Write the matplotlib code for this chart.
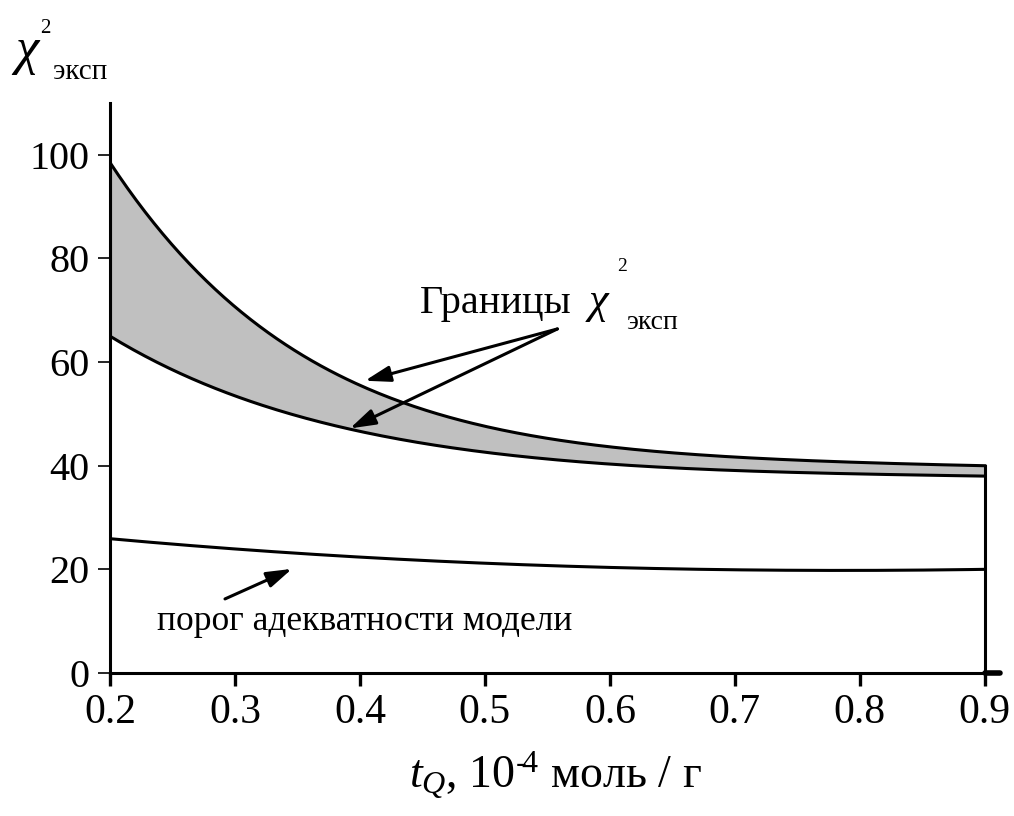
import matplotlib
matplotlib.use("Agg")
import matplotlib.pyplot as plt
import numpy as np

plt.rcParams['font.family'] = ['Liberation Serif', 'DejaVu Serif']
plt.rcParams['mathtext.fontset'] = 'custom'
plt.rcParams['mathtext.rm'] = 'Liberation Serif'
plt.rcParams['mathtext.it'] = 'Liberation Serif:italic'

# data
x = [0.2, 0.25, 0.3, 0.35, 0.4, 0.45, 0.5, 0.55, 0.6, 0.65, 0.7, 0.75, 0.8, 0.85, 0.9]
upper = [98.5, 82.5, 70.8, 61.8, 55.5, 51.0, 47.6, 45.3, 43.6, 42.5, 41.7, 41.1, 40.6, 40.3, 40.0]
lower = [65.0, 58.5, 53.5, 49.6, 46.6, 44.4, 42.6, 41.3, 40.3, 39.6, 39.1, 38.7, 38.4, 38.2, 38.0]
threshold = [25.9, 24.9, 24.0, 23.1, 22.3, 21.7, 21.2, 20.8, 20.4, 20.1, 19.9, 19.8, 19.8, 19.9, 20.0]
xticks = [0.2, 0.3, 0.4, 0.5, 0.6, 0.7, 0.8, 0.9]
yticks = [0, 20, 40, 60, 80, 100]

fig = plt.figure(figsize=(10.14, 8.16), dpi=100)
ax = fig.add_axes([0.1085, 0.1752, 0.986 - 0.1085, 0.8738 - 0.1752])

xs = np.linspace(min(x), max(x), 300)
def smooth(xv, yv, deg):
    c = np.polyfit(xv, yv, deg)
    return np.polyval(c, xs)
up_s = smooth(x, upper, 6)
lo_s = smooth(x, lower, 6)
th_s = smooth(x, threshold, 4)

ax.fill_between(xs, lo_s, up_s, color='#c0c0c0', lw=0)
ax.plot(xs, up_s, color='k', lw=2.2)
ax.plot(xs, lo_s, color='k', lw=2.2)
ax.plot(xs, th_s, color='k', lw=2.2)
ax.plot([x[-1], x[-1]], [0, up_s[-1]], color='k', lw=2.2)
ax.plot([x[0], x[0]], [lo_s[0], up_s[0]], color='k', lw=2.2)

ax.set_xlim(0.2, 0.912)
ax.set_ylim(0, 110)
ax.set_xticks(xticks)
ax.set_xticklabels([f"{v:.1f}" for v in xticks])
ax.set_yticks(yticks)
ax.set_yticklabels([str(v) for v in yticks])
for s in ['top', 'right']:
    ax.spines[s].set_visible(False)
for s in ['left', 'bottom']:
    ax.spines[s].set_linewidth(2.2)
ax.tick_params(axis='x', direction='out', length=9, width=2.4, labelsize=30, pad=6)
ax.tick_params(axis='y', direction='out', length=9, width=1.2, labelsize=29, pad=6)

# small stub past last tick
ax.plot([0.9, 0.912], [0, 0], color='k', lw=4, clip_on=False, solid_capstyle='round')

ax.set_xlabel('$t_{Q}$, 10$^{\u2010\\!4}$ моль / г', fontsize=33, labelpad=12)

# y label at top-left
fig.text(15/1014, 1 - 64/816, 'χ', fontsize=38, fontstyle='italic', ha='left', va='baseline')
fig.text(40/1014, 1 - 33/816, '2', fontsize=15, ha='left', va='baseline')
fig.text(53/1014, 1 - 79/816, 'эксп', fontsize=21, ha='left', va='baseline')

# annotations
arrow = dict(arrowstyle='-|>,head_length=0.7,head_width=0.22', lw=2.2, color='k',
             mutation_scale=22, shrinkA=0, shrinkB=0)
ax.annotate('', xy=(0.404, 56.4), xytext=(0.558, 66.4), arrowprops=arrow)
ax.annotate('', xy=(0.392, 47.2), xytext=(0.558, 66.4), arrowprops=arrow)
ax.annotate('', xy=(0.3456, 20.1), xytext=(0.292, 14.3), arrowprops=arrow)

ax.text(0.448, 69.5, 'Границы ', fontsize=29, ha='left', va='baseline')
ax.text(0.583, 69.5, 'χ', fontsize=32, fontstyle='italic', ha='left', va='baseline')
ax.text(0.606, 77.5, '2', fontsize=14, ha='left', va='baseline')
ax.text(0.613, 66.3, 'эксп', fontsize=20, ha='left', va='baseline')
ax.text(0.2376, 8.3, 'порог адекватности модели', fontsize=25.5, ha='left', va='baseline')

fig.savefig('out.png', dpi=100)
